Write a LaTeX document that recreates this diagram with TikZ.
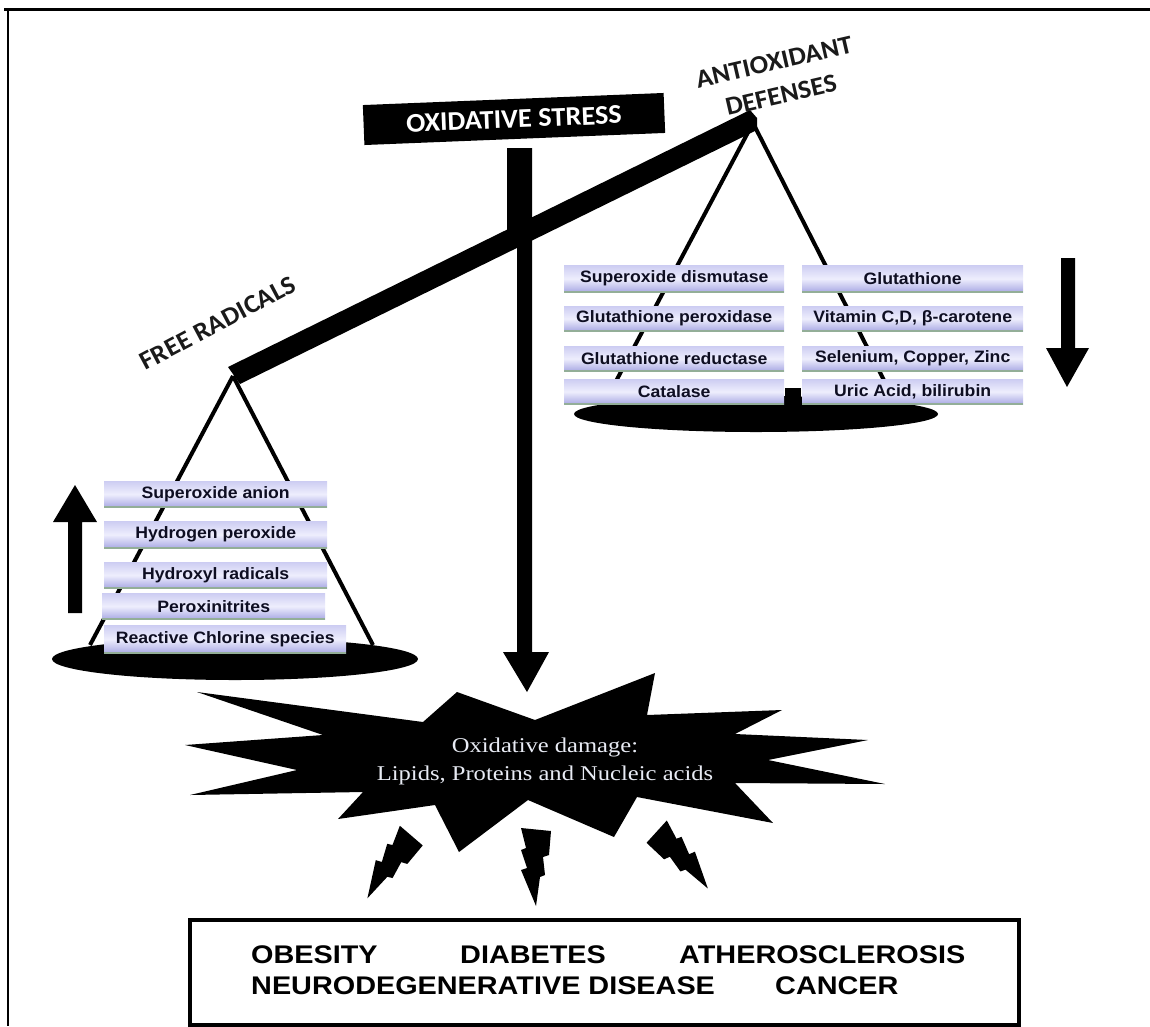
\documentclass[tikz,border=0pt]{standalone}
\usepackage{fontspec}
\setmainfont{Liberation Serif}
\newfontfamily\calfont[FakeStretch=1.05]{Carlito}
\newfontfamily\boxfont[FakeStretch=1.07]{Liberation Sans}
\newfontfamily\disfont[FakeStretch=1.13]{Liberation Sans}
\newfontfamily\starfont[FakeStretch=1.17]{Liberation Serif}
\usetikzlibrary{shapes.geometric}
\definecolor{boxtop}{HTML}{CDCDF2}
\definecolor{boxmid}{HTML}{EEEEFD}
\definecolor{boxbot}{HTML}{A9A9E4}
\definecolor{boxline}{HTML}{93AE98}
\definecolor{boxtxt}{HTML}{0E0E22}
\definecolor{labtxt}{HTML}{1A1A1A}
\definecolor{startxt}{HTML}{E8EBF4}
\tikzset{
  pbox/.style={rectangle, inner sep=0pt, anchor=north west,
    top color=boxtop, bottom color=boxbot, middle color=boxmid,
    font=\boxfont\bfseries\fontsize{16.5}{18}\selectfont, text=boxtxt,
    path picture={\draw[line width=3pt, boxline]
      (path picture bounding box.south west) -- (path picture bounding box.south east);}},
  hang/.style={line width=4pt, black},
  lab/.style={font=\calfont\bfseries\fontsize{26}{28}\selectfont, text=labtxt, inner sep=0pt},
  startext/.style={font=\starfont\fontsize{21}{24}\selectfont, text=startxt, inner sep=0pt, anchor=base},
  distext/.style={font=\disfont\bfseries\fontsize{25.5}{28}\selectfont, text=black, inner sep=0pt, anchor=base west},
  lbolt/.pic={\fill[black] (-15,-2) -- (15,1) -- (13,25) -- (7,27) -- (9,45) -- (4,47) -- (0,76)
     -- (-15,40) -- (-9,38) -- (-15,20) -- (-10,18) -- cycle;}
}
\begin{document}
\begin{tikzpicture}[x=1pt,y=-1pt]
\useasboundingbox (0,0) rectangle (1150,1026);
% frame
\draw[line width=3pt] (4,9) -- (1150,9);
\draw[line width=1.5pt] (8,9) -- (8,1026);

% hanging points
\coordinate (lapex) at (233,376);
\coordinate (rapex) at (753,123);
\coordinate (ll) at (90,645);
\coordinate (lr) at (373,645);
\coordinate (rl) at (606,400);
\coordinate (rr) at (894,400);
\draw[hang] (lapex) -- (ll);
\draw[hang] (lapex) -- (lr);
\draw[hang] (rapex) -- (rl);
\draw[hang] (rapex) -- (rr);

% pans
\node[ellipse, fill=black, inner sep=0pt, minimum width=366pt, minimum height=42pt] (lpan) at (235,659) {};
\node[ellipse, fill=black, inner sep=0pt, minimum width=364pt, minimum height=36pt] (rpan) at (756,414) {};
\fill[black] (785,388) rectangle (801,405);

% left boxes
\node[pbox, minimum width=223pt, minimum height=26pt] (l1) at (104,481) {Superoxide anion};
\node[pbox, minimum width=223pt, minimum height=27pt] (l2) at (104,521) {Hydrogen peroxide};
\node[pbox, minimum width=223pt, minimum height=26pt] (l3) at (104,562) {Hydroxyl radicals};
\node[pbox, minimum width=223pt, minimum height=26pt] (l4) at (102,593) {Peroxinitrites};
\node[pbox, minimum width=242pt, minimum height=28pt] (l5) at (104,625) {Reactive Chlorine species};

% right boxes
\node[pbox, minimum width=220pt, minimum height=27pt] (a1) at (564,265) {Superoxide dismutase};
\node[pbox, minimum width=220pt, minimum height=25pt] (a2) at (564,306) {Glutathione peroxidase};
\node[pbox, minimum width=220pt, minimum height=25pt] (a3) at (564,346) {Glutathione reductase};
\node[pbox, minimum width=220pt, minimum height=25pt] (a4) at (564,379) {Catalase};
\node[pbox, minimum width=221pt, minimum height=27pt] (b1) at (802,265) {Glutathione};
\node[pbox, minimum width=221pt, minimum height=25pt] (b2) at (802,306) {Vitamin C,D, β-carotene};
\node[pbox, minimum width=221pt, minimum height=25pt] (b3) at (802,346) {Selenium, Copper, Zinc};
\node[pbox, minimum width=221pt, minimum height=25pt] (b4) at (802,379) {Uric Acid, bilirubin};

% beam
\fill[black] (228,367) -- (750,110) -- (757,118) -- (757,130) -- (240,384) -- cycle;
% post with arrow
\fill[black] (507,148) -- (532,148) -- (532,652) -- (549,652) -- (527,692) -- (503,652)
  -- (517,652) -- (517,236) -- (507,236) -- cycle;

% oxidative stress box
\node[fill=black, rotate=2.3, minimum width=301pt, minimum height=40pt, inner sep=0pt,
  text=white, font=\calfont\bfseries\fontsize{27}{29}\selectfont] (os) at (514,119) {OXIDATIVE STRESS};

% labels
\node[lab, rotate=28] (fr) at (218,323) {FREE RADICALS};
\node[lab, rotate=13] (ao) at (774,62) {ANTIOXIDANT};
\node[lab, rotate=13] (df) at (781,95) {DEFENSES};

% side arrows
\fill[black] (68,613) -- (68,522) -- (53,522) -- (75,485) -- (97,522) -- (82,522) -- (82,613) -- cycle;
\fill[black] (1061,258) -- (1075,258) -- (1075,348) -- (1089,348) -- (1067,387) -- (1046,348) -- (1061,348) -- cycle;

% star
\fill[black] (197,692) -- (423,722) -- (457,692) -- (535,720) -- (655,673) -- (647,715)
  -- (782,710) -- (735,734) -- (868,740) -- (768,760) -- (885,784) -- (735,783)
  -- (773,823) -- (637,797) -- (614,837) -- (528,800) -- (459,852) -- (435,805)
  -- (338,819) -- (363,792) -- (190,795) -- (297,770) -- (185,745) -- (323,735) -- cycle;
\node[startext] (s1) at (545,752) {Oxidative damage:};
\node[startext] (s2) at (545,780) {Lipids, Proteins and Nucleic acids};

% bolts
\pic[rotate=-35] at (411,836) {lbolt};
\pic at (536,830) {lbolt};
\pic[rotate=42, xscale=-1] at (657,832) {lbolt};

% disease box
\node[draw, line width=4pt, anchor=north west, inner sep=0pt, minimum width=829pt, minimum height=105pt] (dbox) at (188,918) {};
\node[distext] (d1) at (251,963) {OBESITY};
\node[distext] (d2) at (460,963) {DIABETES};
\node[distext] (d3) at (679,963) {ATHEROSCLEROSIS};
\node[distext] (d4) at (251,994) {NEURODEGENERATIVE DISEASE};
\node[distext] (d5) at (775,994) {CANCER};
\end{tikzpicture}
\end{document}
